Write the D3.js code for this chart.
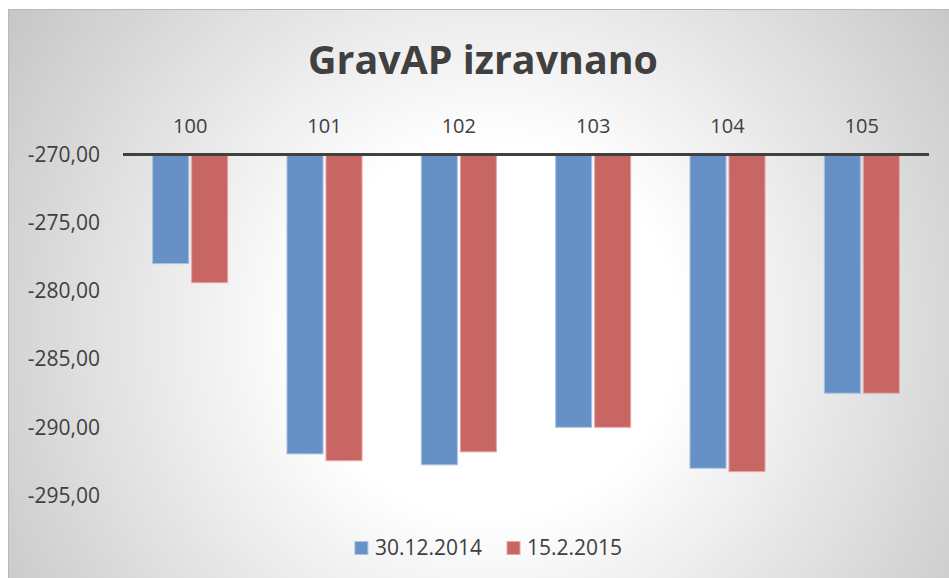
<!DOCTYPE html>
<html>
<head>
<meta charset="utf-8">
<script src="https://cdn.jsdelivr.net/npm/d3@7"></script>
<style>
  html, body { margin: 0; padding: 0; background: #ffffff; }
  svg { display: block; }
  text { font-family: "Open Sans", "Noto Sans", sans-serif; }
</style>
</head>
<body>
<svg id="chart" width="949" height="578"></svg>
<script>
const titleText = "GravAP izravnano";
const categories = ["100", "101", "102", "103", "104", "105"];
const seriesNames = ["30.12.2014", "15.2.2015"];
const series1 = [-278.0, -291.95, -292.75, -290.0, -293.0, -287.5];
const series2 = [-279.4, -292.45, -291.8, -290.0, -293.25, -287.5];
const yTicks = [-270, -275, -280, -285, -290, -295];
const colors = ["#6691c6", "#c86663"];
const strokeColors = ["#a9c1e2", "#e6a7a5"];

const W = 949, H = 578;
const svg = d3.select("#chart");
const defs = svg.append("defs");
const grad = defs.append("radialGradient")
  .attr("id", "bg").attr("gradientUnits", "userSpaceOnUse")
  .attr("cx", 490).attr("cy", 330).attr("r", 620);
grad.append("stop").attr("offset", "0").attr("stop-color", "#ffffff");
grad.append("stop").attr("offset", "0.3").attr("stop-color", "#ffffff");
grad.append("stop").attr("offset", "1").attr("stop-color", "#c0c0c0");

svg.append("rect").attr("x", 8.5).attr("y", 9.5).attr("width", W - 8).attr("height", H - 9)
  .attr("fill", "url(#bg)").attr("stroke", "#b8b8b8").attr("stroke-width", 1);

const plotLeft = 123, plotRight = 929;
const x0 = d3.scaleBand().domain(categories).range([plotLeft, plotRight])
  .paddingInner(0.434).paddingOuter(0.217);
const x1 = d3.scaleBand().domain(seriesNames).range([0, x0.bandwidth()])
  .paddingInner(0.05).paddingOuter(0);
const y = d3.scaleLinear().domain([-270, -295]).range([154.5, 495.5]);

// Title
const title = svg.append("text").text(titleText)
  .attr("x", 483).attr("y", 74).attr("text-anchor", "middle")
  .attr("font-weight", 700).attr("font-size", 40).attr("fill", "#404040");
const tw = title.node().getComputedTextLength();
if (tw > 0) title.attr("font-size", 40 * 350 / tw);

// Y axis labels
const yAxis = d3.axisLeft(y).tickValues(yTicks)
  .tickFormat(d => d3.format(".2f")(d).replace(".", ",").replace("−", "-"))
  .tickSize(0).tickPadding(0);
const ya = svg.append("g").attr("transform", "translate(100,0)").call(yAxis);
ya.select(".domain").remove();
ya.selectAll("text").attr("font-size", 21).attr("fill", "#404040")
  .attr("font-family", "'Open Sans', sans-serif");

// Category labels (top)
const xAxis = d3.axisTop(x0).tickSize(0).tickPadding(0);
const xa = svg.append("g").attr("transform", "translate(0,133)").call(xAxis);
xa.select(".domain").remove();
xa.selectAll("text").attr("font-size", 20).attr("fill", "#404040")
  .attr("font-family", "'Open Sans', sans-serif");

// Bars
const data = categories.map((c, i) => ({ cat: c, vals: [series1[i], series2[i]] }));
const groups = svg.append("g").selectAll("g").data(data).join("g")
  .attr("transform", d => `translate(${x0(d.cat)},0)`);
groups.selectAll("rect").data(d => d.vals.map((v, k) => ({ v, k })))
  .join("rect")
  .attr("x", d => x1(seriesNames[d.k]) + 0.5)
  .attr("y", y(-270))
  .attr("width", x1.bandwidth() - 1)
  .attr("height", d => y(d.v) - y(-270))
  .attr("fill", d => colors[d.k])
  .attr("stroke", d => strokeColors[d.k])
  .attr("stroke-width", 1);

// Axis line at -270
svg.append("line").attr("x1", plotLeft).attr("x2", plotRight)
  .attr("y1", y(-270)).attr("y2", y(-270))
  .attr("stroke", "#404040").attr("stroke-width", 3);

// Legend
const legend = svg.append("g");
const items = legend.selectAll("g").data(seriesNames).join("g");
items.append("rect").attr("width", 13).attr("height", 13).attr("y", -13)
  .attr("fill", (d, i) => colors[i]).attr("stroke", (d, i) => strokeColors[i]).attr("stroke-width", 1);
items.append("text").text(d => d).attr("x", 20).attr("y", 0)
  .attr("font-size", 21).attr("fill", "#404040");
let widths = [];
items.each(function () { widths.push(20 + d3.select(this).select("text").node().getComputedTextLength()); });
const gap = 25;
const total = d3.sum(widths) + gap * (widths.length - 1);
let cx = 488.5 - total / 2;
items.attr("transform", (d, i) => {
  const t = `translate(${cx},554.5)`;
  cx += widths[i] + gap;
  return t;
});
</script>
</body>
</html>
